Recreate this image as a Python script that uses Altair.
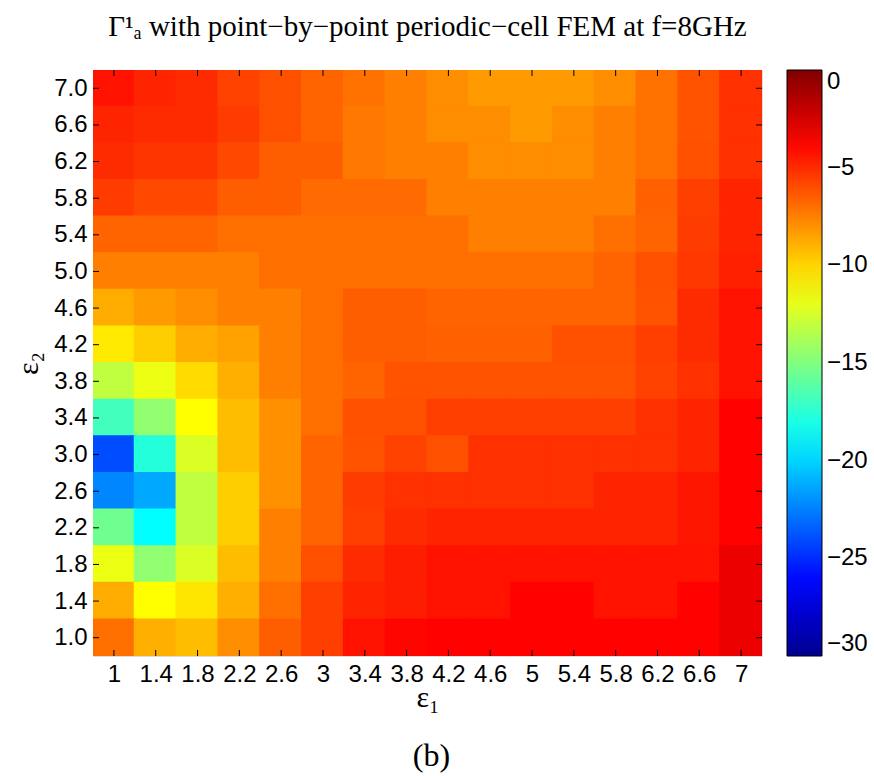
import altair as alt
import pandas as pd

# epsilon_1 (columns) and epsilon_2 (rows, listed top -> bottom)
eps1 = [1.0, 1.4, 1.8, 2.2, 2.6, 3.0, 3.4, 3.8, 4.2, 4.6, 5.0, 5.4, 5.8, 6.2, 6.6, 7.0]
eps2 = [7.0, 6.6, 6.2, 5.8, 5.4, 5.0, 4.6, 4.2, 3.8, 3.4, 3.0, 2.6, 2.2, 1.8, 1.4, 1.0]

row_7_0 = [-4.3, -4.8, -5.0, -5.7, -6.1, -6.7, -7.1, -7.5, -7.9, -8.3, -8.3, -8.3, -7.9, -7.1, -6.2, -5.2]
row_6_6 = [-4.8, -5.0, -5.0, -5.5, -6.1, -6.7, -7.3, -7.5, -7.9, -7.9, -8.3, -7.9, -7.5, -7.1, -6.2, -5.2]
row_6_2 = [-5.0, -5.3, -5.3, -5.9, -6.5, -6.5, -7.3, -7.5, -7.5, -7.9, -7.9, -7.9, -7.5, -7.1, -6.1, -5.2]
row_5_8 = [-5.5, -5.9, -5.9, -6.5, -6.5, -6.9, -6.9, -6.9, -7.5, -7.5, -7.5, -7.5, -7.5, -6.6, -5.6, -4.8]
row_5_4 = [-6.7, -6.7, -6.7, -7.0, -7.0, -7.0, -7.0, -7.0, -7.0, -7.5, -7.5, -7.5, -7.0, -6.7, -5.5, -4.8]
row_5_0 = [-7.5, -7.5, -7.5, -7.5, -7.0, -7.0, -7.0, -7.0, -7.0, -7.0, -7.0, -7.0, -6.7, -6.1, -5.4, -4.7]
row_4_6 = [-8.8, -8.3, -7.9, -7.5, -7.5, -7.0, -6.5, -6.5, -6.7, -6.7, -6.7, -6.7, -6.7, -6.2, -5.0, -4.3]
row_4_2 = [-10.6, -9.8, -8.8, -8.5, -7.5, -7.0, -6.5, -6.5, -6.6, -6.6, -6.6, -6.1, -6.1, -5.6, -5.0, -4.3]
row_3_8 = [-13.1, -11.8, -10.2, -8.9, -7.5, -7.0, -6.7, -6.2, -6.2, -6.2, -6.2, -6.2, -6.2, -5.7, -5.2, -4.3]
row_3_4 = [-16.8, -14.5, -11.25, -9.3, -8.0, -7.0, -6.1, -6.1, -5.6, -5.6, -5.6, -5.6, -5.6, -5.2, -4.8, -3.8]
row_3_0 = [-24.0, -17.7, -12.3, -9.3, -8.0, -6.7, -6.2, -5.7, -6.1, -5.2, -5.2, -5.2, -5.2, -5.2, -4.8, -3.8]
row_2_6 = [-22.3, -21.3, -13.1, -9.8, -8.0, -6.7, -5.5, -5.2, -5.2, -5.2, -5.2, -5.2, -4.8, -4.8, -4.4, -3.8]
row_2_2 = [-15.5, -18.75, -13.1, -9.8, -7.5, -6.7, -5.6, -5.0, -4.8, -4.8, -4.8, -4.8, -4.8, -4.8, -4.4, -3.8]
row_1_8 = [-11.8, -14.5, -12.3, -9.3, -7.5, -6.1, -5.0, -4.6, -4.3, -4.3, -4.3, -4.3, -4.3, -4.3, -4.3, -3.2]
row_1_4 = [-8.8, -11.25, -10.5, -8.9, -7.0, -5.6, -4.8, -4.6, -4.3, -4.3, -3.8, -3.8, -4.3, -4.3, -3.8, -3.2]
row_1_0 = [-7.0, -8.9, -9.3, -7.9, -6.5, -5.6, -4.3, -3.9, -3.8, -3.8, -3.8, -3.8, -3.8, -3.8, -3.8, -3.2]

rows = [row_7_0, row_6_6, row_6_2, row_5_8, row_5_4, row_5_0, row_4_6, row_4_2,
        row_3_8, row_3_4, row_3_0, row_2_6, row_2_2, row_1_8, row_1_4, row_1_0]

cbar_ticks = [0, -5, -10, -15, -20, -25, -30]

records = []
for e2, row in zip(eps2, rows):
    for e1, v in zip(eps1, row):
        records.append({"e1": e1, "e2": e2, "g": v})
df = pd.DataFrame(records)
df_x = pd.DataFrame({"e1": eps1})
df_y = pd.DataFrame({"e2": eps2})

W, H = 669, 586
SANS = "Liberation Sans"
SERIF = "Liberation Serif"

xscale = alt.Scale(domain=[0.8, 7.2], nice=False, zero=False)
yscale = alt.Scale(domain=[0.8, 7.2], nice=False, zero=False)
xaxis = alt.Axis(values=eps1, format="~g", title="ε₁", ticks=False, domain=False, grid=False,
                 labelFont=SANS, labelFontSize=24, labelColor="black", labelPadding=6,
                 labelFlush=False, labelOverlap=False, titleFont=SERIF, titleFontSize=30,
                 titleFontWeight="normal", titleColor="black", titlePadding=-4)
yaxis = alt.Axis(values=eps2, format=".1f", title="ε₂", ticks=False, domain=False, grid=False,
                 labelFont=SANS, labelFontSize=24, labelColor="black", labelPadding=6,
                 labelFlush=False, labelOverlap=False, titleFont=SERIF, titleFontSize=30,
                 titleFontWeight="normal", titleColor="black", titlePadding=10)

jet = alt.Scale(domain=[-30, -26.25, -18.75, -11.25, -3.75, 0],
                range=["#00008f", "#0000ff", "#00ffff", "#ffff00", "#ff0000", "#800000"],
                interpolate="rgb")

heat = alt.Chart(df).transform_calculate(
    x0="max(datum.e1 - 0.21, 0.8)", x1="min(datum.e1 + 0.21, 7.2)",
    y0="max(datum.e2 - 0.21, 0.8)", y1="min(datum.e2 + 0.21, 7.2)"
).mark_rect().encode(
    x=alt.X("x0:Q", scale=xscale, axis=xaxis),
    x2="x1:Q",
    y=alt.Y("y0:Q", scale=yscale, axis=yaxis),
    y2="y1:Q",
    color=alt.Color("g:Q", scale=jet, legend=alt.Legend(
        title=None, values=cbar_ticks, direction="vertical", orient="right",
        gradientLength=H, gradientThickness=35, offset=25,
        gradientStrokeColor="black", gradientStrokeWidth=1,
        labelFont=SANS, labelFontSize=24, labelColor="black", labelOffset=5,
        labelBaseline="middle", labelOverlap=False)),
)

tick_len = 6
bot = alt.Chart(df_x).mark_rule(color="black", strokeWidth=1).encode(
    x=alt.X("e1:Q", scale=xscale, axis=xaxis), y=alt.value(H), y2=alt.value(H - tick_len))
top = alt.Chart(df_x).mark_rule(color="black", strokeWidth=1).encode(
    x=alt.X("e1:Q", scale=xscale, axis=xaxis), y=alt.value(0), y2=alt.value(tick_len))
left = alt.Chart(df_y).mark_rule(color="black", strokeWidth=1).encode(
    y=alt.Y("e2:Q", scale=yscale, axis=yaxis), x=alt.value(0), x2=alt.value(tick_len))
right = alt.Chart(df_y).mark_rule(color="black", strokeWidth=1).encode(
    y=alt.Y("e2:Q", scale=yscale, axis=yaxis), x=alt.value(W), x2=alt.value(W - tick_len))

label_b = alt.Chart(pd.DataFrame({"t": ["(b)"]})).mark_text(
    font=SERIF, fontSize=32, color="black", baseline="middle", align="center"
).encode(x=alt.value(W / 2 + 4), y=alt.value(H + 100), text="t:N")

chart = alt.layer(heat, bot, top, left, right, label_b).properties(
    width=W, height=H,
    padding={"left": 13, "top": 12, "right": 2, "bottom": 2},
    title=alt.Title("Γ¹ₐ with point−by−point periodic−cell FEM at f=8GHz",
                    font=SERIF, fontSize=29, fontWeight="normal", color="black",
                    anchor="middle", offset=28),
).configure_view(stroke="black", strokeWidth=1.2).configure(background="white")

chart.save("out.html", embed_options={"renderer": "svg", "actions": False})
